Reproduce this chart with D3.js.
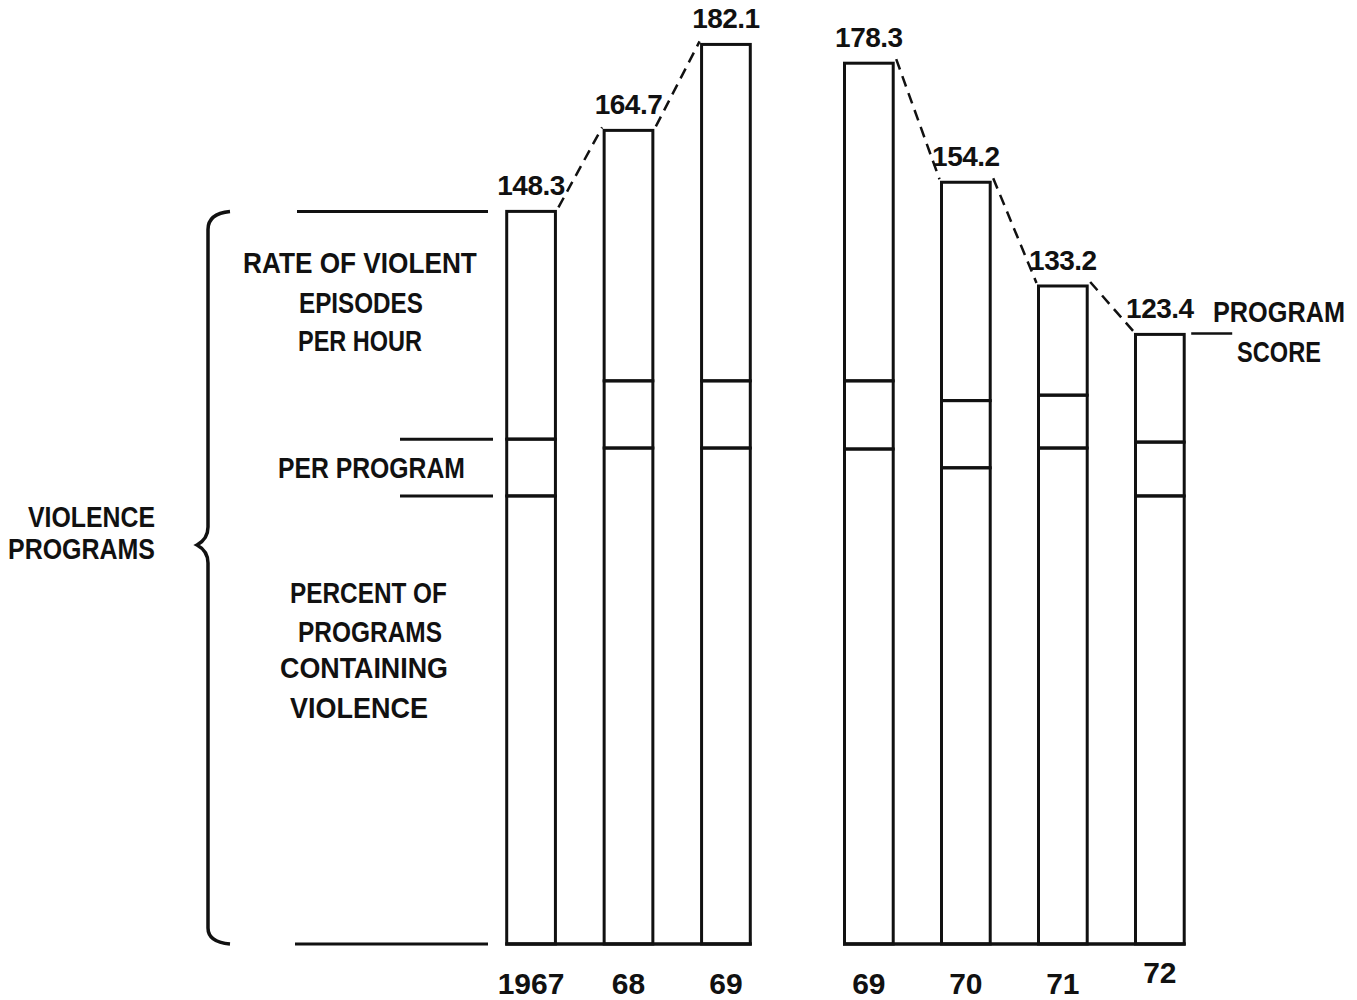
<!DOCTYPE html>
<html>
<head>
<meta charset="utf-8">
<script src="https://cdn.jsdelivr.net/npm/d3@7.9.0/dist/d3.min.js"></script>
<style>
  body { margin: 0; background: #fff; }
  svg text { font-family: "Liberation Sans", Arial, sans-serif; font-weight: bold; fill: #111; }
</style>
</head>
<body>
<svg id="chart" width="1357" height="1000"></svg>
<script>
// values
const yearLabels = ["1967", "68", "69", "69", "70", "71", "72"];
const group = [0, 0, 0, 1, 1, 1, 1];
const programScore = [148.3, 164.7, 182.1, 178.3, 154.2, 133.2, 123.4];
const percentPrograms = [90.7, 100.4, 100.4, 100.2, 96.4, 100.4, 90.7];
const ratePerProgram = [11.5, 13.6, 13.6, 13.8, 13.6, 10.7, 10.9];
const ratePerHour = [46.1, 50.7, 68.1, 64.3, 44.2, 22.1, 21.8];

const rows = yearLabels.map((year, i) => ({
  i, year, group: group[i],
  percent: percentPrograms[i],
  perProgram: ratePerProgram[i],
  perHour: ratePerHour[i],
  score: programScore[i]
}));

const svg = d3.select("#chart");

const y = d3.scaleLinear().domain([0, 100]).range([944, 450]);

const xScales = [
  d3.scaleBand().domain([0, 1, 2]).range([458, 799]).padding(0.5),
  d3.scaleBand().domain([3, 4, 5, 6]).range([796, 1232.5]).padding(0.5)
];
const xOf = d => xScales[d.group](d.i);
const bw = xScales[0].bandwidth();

const stack = d3.stack().keys(["percent", "perProgram", "perHour"]);
const series = stack(rows);

// stacked segments
svg.append("g")
  .selectAll("g")
  .data(series)
  .join("g")
  .selectAll("rect")
  .data(s => s)
  .join("rect")
  .attr("x", d => xOf(d.data))
  .attr("width", bw)
  .attr("y", d => y(d[1]))
  .attr("height", d => y(d[0]) - y(d[1]))
  .attr("fill", "none")
  .attr("stroke", "#111")
  .attr("stroke-width", 3);

// baseline per group
[0, 1].forEach(g => {
  const inG = rows.filter(d => d.group === g);
  const first = inG[0], last = inG[inG.length - 1];
  svg.append("line")
    .attr("x1", xOf(first) - 1.5).attr("x2", xOf(last) + bw + 1.5)
    .attr("y1", y(0)).attr("y2", y(0))
    .attr("stroke", "#111").attr("stroke-width", 3.5);
});

// dashed connectors between bar tops
const links = d3.pairs(rows).filter(([a, b]) => a.group === b.group);
svg.append("g")
  .selectAll("line")
  .data(links)
  .join("line")
  .attr("x1", ([a]) => xOf(a) + bw + 3)
  .attr("y1", ([a]) => y(a.score) - 4)
  .attr("x2", ([, b]) => xOf(b) - 2)
  .attr("y2", ([, b]) => y(b.score) - 3)
  .attr("stroke", "#111")
  .attr("stroke-width", 2.5)
  .attr("stroke-dasharray", "11,7");

// score labels
svg.append("g")
  .selectAll("text")
  .data(rows)
  .join("text")
  .attr("x", d => xOf(d) + bw / 2)
  .attr("y", d => y(d.score) - 16)
  .attr("text-anchor", "middle")
  .attr("font-size", 28)
  .attr("letter-spacing", -0.5)
  .text(d => d.score.toFixed(1));

// year labels
svg.append("g")
  .selectAll("text")
  .data(rows)
  .join("text")
  .attr("x", d => xOf(d) + bw / 2)
  .attr("y", d => y(0) + (d.i === 6 ? 39 : 50))
  .attr("text-anchor", "middle")
  .attr("font-size", 30)
  .text(d => d.year);

// guide lines from the first bar's segment boundaries
const b0 = rows[0];
const guides = [
  { v: b0.score, x1: 297, x2: 488 },
  { v: b0.percent + b0.perProgram, x1: 400, x2: 493 },
  { v: b0.percent, x1: 400, x2: 493 },
  { v: 0, x1: 295, x2: 488 }
];
svg.append("g")
  .selectAll("line")
  .data(guides)
  .join("line")
  .attr("x1", d => d.x1).attr("x2", d => d.x2)
  .attr("y1", d => y(d.v)).attr("y2", d => y(d.v))
  .attr("stroke", "#111").attr("stroke-width", 3);

// curly brace
const bt = y(b0.score), bb = y(0), bm = 545, bx = 208;
svg.append("path")
  .attr("d", `M${bx + 22},${bt} Q${bx},${bt + 2} ${bx},${bt + 18}
    L${bx},${bm - 18} Q${bx},${bm - 6} ${bx - 11},${bm}
    Q${bx},${bm + 6} ${bx},${bm + 18}
    L${bx},${bb - 16} Q${bx},${bb - 2} ${bx + 22},${bb}`)
  .attr("fill", "none")
  .attr("stroke", "#111")
  .attr("stroke-width", 3.5);

// program score pointer
const last = rows[6];
svg.append("line")
  .attr("x1", xOf(last) + bw + 7).attr("x2", xOf(last) + bw + 48)
  .attr("y1", y(last.score) - 1).attr("y2", y(last.score) - 1)
  .attr("stroke", "#111").attr("stroke-width", 2.5);

// annotations (condensed by a horizontal scale to the widths in the picture)
const notes = [
  { t: "RATE OF VIOLENT", x: 243, w: 234, y: 273 },
  { t: "EPISODES", x: 299, w: 124, y: 313 },
  { t: "PER HOUR", x: 298, w: 124, y: 351 },
  { t: "PER PROGRAM", x: 278, w: 187, y: 478 },
  { t: "PERCENT OF", x: 290, w: 157, y: 603 },
  { t: "PROGRAMS", x: 298, w: 144, y: 642 },
  { t: "CONTAINING", x: 280, w: 168, y: 678 },
  { t: "VIOLENCE", x: 290, w: 138, y: 718 },
  { t: "VIOLENCE", x: 28, w: 127, y: 527 },
  { t: "PROGRAMS", x: 8, w: 147, y: 559 },
  { t: "PROGRAM", x: 1213, w: 132, y: 322 },
  { t: "SCORE", x: 1237, w: 84, y: 362 }
];
svg.append("g")
  .selectAll("text")
  .data(notes)
  .join("text")
  .attr("font-size", 29)
  .text(d => d.t)
  .attr("transform", function (d) {
    const natural = this.getComputedTextLength();
    return `translate(${d.x},${d.y}) scale(${d.w / natural},1)`;
  });
</script>
</body>
</html>
